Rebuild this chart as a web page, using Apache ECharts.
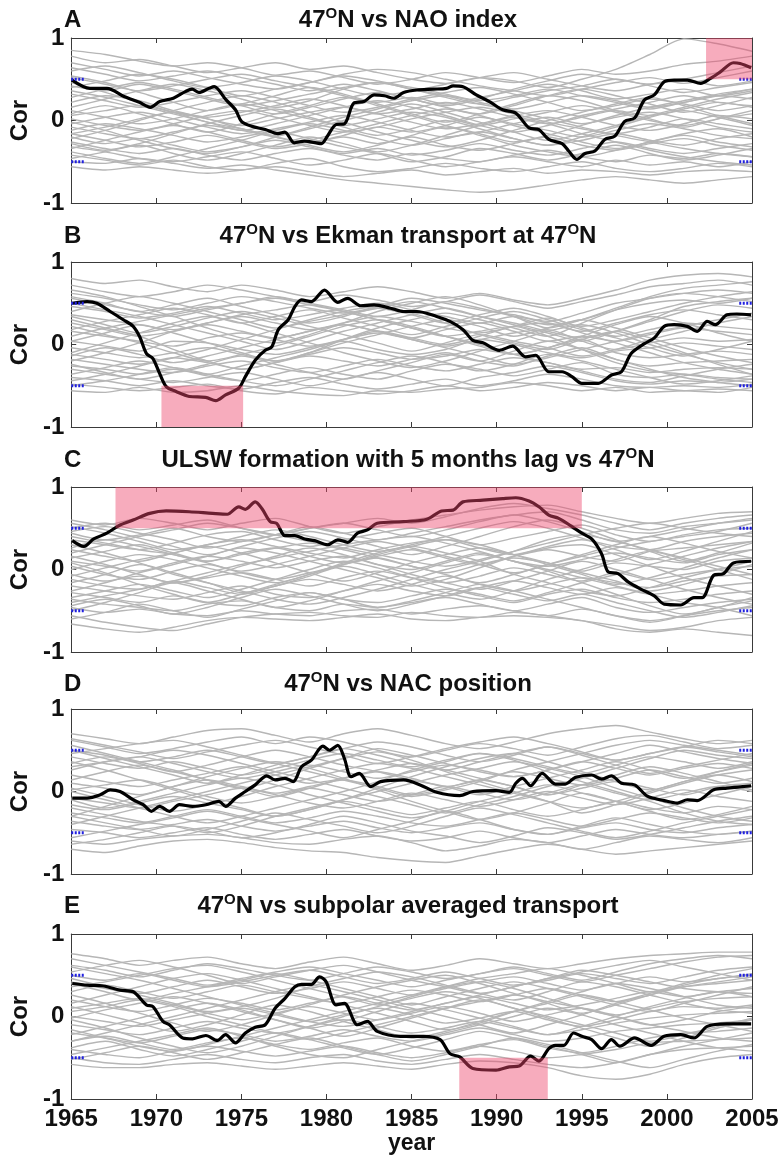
<!DOCTYPE html>
<html>
<head>
<meta charset="utf-8">
<script src="https://cdn.jsdelivr.net/npm/echarts@6/dist/echarts.min.js"></script>
<style>
  html, body { margin: 0; padding: 0; background: #fff; }
  #chart { width: 784px; height: 1166px; }
</style>
</head>
<body>
<div id="chart"></div>
<script>
// ---- Running correlations, 1965-2005 ----
const years = [1965, 1967, 1969, 1971, 1973, 1975, 1977, 1979, 1981, 1983, 1985,
               1987, 1989, 1991, 1993, 1995, 1997, 1999, 2001, 2003, 2005];
const yTicks = [-1, 0, 1];
const sigLevel = 0.5;

const panelLetters = ['A', 'B', 'C', 'D', 'E'];
const panelTitles = [
  '47{s|O}N vs NAO index',
  '47{s|O}N vs Ekman transport at 47{s|O}N',
  'ULSW formation with 5 months lag vs 47{s|O}N',
  '47{s|O}N vs NAC position',
  '47{s|O}N vs subpolar averaged transport'
];

// Highlighted (significant) windows: [yearFrom, corFrom, yearTo, corTo]
const shadeA = [[2002.3, 0.5, 2005, 1]];
const shadeB = [[1970.3, -1, 1975.1, -0.5]];
const shadeC = [[1967.6, 0.5, 1995.0, 1]];
const shadeD = [];
const shadeE = [[1987.8, -1, 1993.0, -0.5]];

// Observed running correlation (thick line)
const mainA = [[1965.05,.49],[1966.1,.39],[1967.1,.39],[1968.1,.29],[1969.0,.22],[1969.65,.16],[1970.2,.23],
  [1971.0,.27],[1971.7,.35],[1972.1,.38],[1972.5,.34],[1973.1,.39],[1973.4,.41],[1974.1,.25],[1974.65,.13],
  [1975.0,-.01],[1975.6,-.07],[1976.4,-.11],[1977.15,-.16],[1977.55,-.14],[1978.1,-.27],[1978.7,-.25],
  [1979.7,-.28],[1980.05,-.19],[1980.55,-.05],[1981.05,-.04],[1981.6,.21],[1982.2,.23],[1982.8,.31],
  [1983.4,.30],[1983.95,.27],[1984.53,.34],[1985.31,.37],[1986.28,.38],[1987.05,.39],[1987.44,.42],
  [1988.02,.41],[1988.8,.31],[1989.57,.23],[1990.35,.13],[1991.12,.09],[1991.9,-.09],[1992.48,-.11],
  [1993.06,-.23],[1993.84,-.28],[1994.23,-.37],[1994.71,-.47],[1995.19,-.40],[1995.77,-.37],[1996.35,-.23],
  [1996.94,-.19],[1997.52,-.01],[1998.1,.03],[1998.68,.25],[1999.26,.31],[1999.84,.47],[2000.42,.49],
  [2001.2,.49],[2001.98,.45],[2002.56,.51],[2003.14,.59],[2003.91,.70],[2004.3,.69],[2004.95,.64]];

const mainB = [[1965.06,.50],[1965.93,.52],[1966.5,.50],[1967.29,.40],[1968.06,.30],[1968.64,.22],[1969.03,.09],
  [1969.42,-.11],[1969.8,-.17],[1970.19,-.35],[1970.58,-.51],[1971.16,-.57],[1971.94,-.63],[1972.9,-.64],
  [1973.49,-.68],[1974.07,-.61],[1974.84,-.53],[1975.23,-.39],[1975.81,-.19],[1976.4,-.07],[1976.78,-.03],
  [1977.17,.18],[1977.75,.30],[1978.14,.46],[1978.53,.54],[1979.11,.52],[1979.88,.66],[1980.66,.51],
  [1981.24,.56],[1982.01,.47],[1982.79,.48],[1983.76,.44],[1984.53,.40],[1985.31,.40],[1986.47,.34],
  [1987.25,.28],[1988.02,.18],[1988.6,.05],[1989.19,.02],[1990.16,-.07],[1990.93,-.02],[1991.7,-.15],
  [1992.29,-.13],[1993.06,-.33],[1993.84,-.33],[1994.42,-.39],[1995.0,-.47],[1995.97,-.47],[1996.74,-.37],
  [1997.33,-.33],[1997.9,-.11],[1998.68,.01],[1999.26,.08],[1999.84,.22],[2000.42,.24],[2001.2,.22],
  [2001.78,.16],[2002.37,.28],[2002.85,.24],[2003.53,.36],[2004.11,.37],[2004.95,.36]];

const mainC = [[1965.06,.35],[1965.74,.28],[1966.32,.37],[1967.09,.44],[1967.87,.54],[1968.64,.60],[1969.61,.68],
  [1970.58,.71],[1971.94,.70],[1973.3,.68],[1974.17,.67],[1974.84,.76],[1975.23,.73],[1975.81,.82],
  [1976.2,.74],[1976.69,.58],[1977.07,.56],[1977.56,.41],[1978.14,.41],[1978.72,.37],[1979.3,.35],
  [1980.08,.30],[1980.66,.36],[1981.24,.33],[1981.82,.44],[1982.4,.48],[1982.98,.56],[1984.53,.58],
  [1985.9,.61],[1986.76,.71],[1987.44,.72],[1988.02,.82],[1989.19,.84],[1990.35,.86],[1991.12,.87],
  [1991.9,.83],[1992.48,.76],[1993.06,.66],[1993.64,.62],[1994.42,.52],[1995.0,.44],[1995.58,.37],
  [1996.16,.19],[1996.55,-.03],[1997.13,-.05],[1997.72,-.15],[1998.49,-.24],[1999.26,-.32],[1999.84,-.42],
  [2000.81,-.43],[2001.59,-.34],[2002.07,-.34],[2002.75,-.07],[2003.33,-.05],[2003.91,.08],[2004.95,.10]];

const mainD = [[1965.06,-.08],[1965.93,-.08],[1966.7,-.04],[1967.29,.02],[1967.87,.00],[1968.64,-.10],[1969.23,-.16],
  [1969.71,-.24],[1970.19,-.18],[1970.77,-.24],[1971.35,-.16],[1972.13,-.18],[1972.91,-.16],[1973.68,-.12],
  [1974.07,-.18],[1974.65,-.08],[1975.23,.00],[1975.81,.08],[1976.49,.19],[1976.98,.14],[1977.56,.16],
  [1978.04,.12],[1978.53,.30],[1979.11,.38],[1979.79,.55],[1980.17,.50],[1980.66,.56],[1981.05,.40],
  [1981.44,.18],[1981.92,.22],[1982.6,.06],[1983.18,.12],[1984.53,.14],[1985.5,.08],[1986.47,-.01],
  [1987.83,-.05],[1988.6,.00],[1989.96,.01],[1990.74,-.01],[1991.12,.10],[1991.51,.16],[1991.99,.07],
  [1992.67,.22],[1993.45,.09],[1994.03,.09],[1994.61,.17],[1995.58,.20],[1996.16,.15],[1996.74,.19],
  [1997.33,.10],[1998.1,.08],[1998.88,-.06],[1999.84,-.11],[2000.62,-.14],[2001.2,-.10],[2001.78,-.11],
  [2002.75,.02],[2003.53,.04],[2004.95,.07]];

const mainE = [[1965.06,.40],[1965.93,.38],[1966.9,.37],[1967.87,.32],[1968.64,.30],[1969.42,.14],[1969.8,.12],
  [1970.39,-.06],[1970.77,-.10],[1971.55,-.26],[1972.13,-.27],[1972.91,-.23],[1973.59,-.29],[1974.07,-.22],
  [1974.65,-.32],[1975.23,-.20],[1975.81,-.13],[1976.4,-.10],[1976.98,.10],[1977.56,.22],[1978.14,.36],
  [1978.53,.39],[1979.11,.39],[1979.59,.48],[1979.98,.42],[1980.56,.14],[1981.05,.16],[1981.82,-.10],
  [1982.4,-.06],[1982.98,-.18],[1984.34,-.24],[1985.7,-.24],[1986.67,-.28],[1987.25,-.45],[1987.83,-.49],
  [1988.6,-.63],[1989.96,-.65],[1990.74,-.61],[1991.32,-.60],[1991.99,-.48],[1992.48,-.54],[1993.06,-.39],
  [1993.45,-.35],[1993.94,-.35],[1994.52,-.20],[1995.0,-.24],[1995.58,-.28],[1996.16,-.39],[1996.74,-.28],
  [1997.23,-.36],[1998.1,-.26],[1999.07,-.35],[1999.84,-.24],[2000.81,-.22],[2001.59,-.26],[2002.37,-.12],
  [2003.53,-.09],[2004.95,-.09]];

// Ensemble members (thin gray lines), one row per member, values at `years`
const ensA = [
  [.85,.80,.72,.66,.70,.64,.55,.60,.52,.44,.50,.58,.52,.46,.54,.62,.56,.60,.68,.72,.78],
  [.78,.70,.74,.66,.58,.64,.70,.62,.66,.58,.50,.45,.52,.48,.40,.50,.62,.80,.99,.93,.84],
  [.70,.62,.54,.60,.52,.44,.38,.46,.56,.62,.58,.50,.42,.36,.30,.38,.46,.52,.45,.52,.60],
  [.60,.66,.58,.48,.40,.46,.54,.48,.38,.30,.36,.44,.52,.58,.50,.42,.36,.44,.50,.42,.48],
  [.52,.44,.36,.42,.50,.56,.48,.40,.30,.22,.28,.20,.28,.36,.44,.36,.26,.32,.38,.30,.36],
  [.42,.36,.44,.36,.26,.18,.24,.32,.40,.46,.38,.30,.20,.14,.22,.30,.24,.16,.22,.30,.26],
  [.32,.24,.16,.22,.30,.36,.28,.18,.10,.16,.26,.34,.40,.32,.22,.12,.18,.26,.20,.12,.18],
  [.22,.30,.24,.12,.04,.10,.18,.26,.18,.08,.14,.22,.14,.04,-.04,.04,.12,.06,.14,.22,.16],
  [.12,.04,-.04,.02,.12,.20,.12,.02,-.06,.02,.10,.04,-.06,.02,.10,.18,.10,0,-.06,.02,.08],
  [.06,.12,.18,.10,.02,-.06,.02,.10,.16,.08,-.02,-.10,-.04,.06,.12,.04,-.06,-.12,-.04,.06,.02],
  [.02,-.06,-.12,-.04,.06,.12,.04,-.06,-.14,-.08,.02,.10,.16,.08,-.02,-.10,-.16,-.08,.02,-.04,-.10],
  [-.04,.04,.10,.02,-.08,-.16,-.10,-.02,.06,-.02,-.12,-.20,-.14,-.04,.04,-.04,.04,.10,.02,-.08,-.14],
  [-.08,-.16,-.22,-.14,-.06,-.12,-.20,-.26,-.18,-.08,-.14,-.06,.04,-.04,-.12,-.20,-.12,-.04,-.10,-.18,-.22],
  [-.12,-.04,-.10,-.18,-.26,-.20,-.12,-.04,-.12,-.22,-.30,-.22,-.14,-.22,-.30,-.24,-.16,-.24,-.30,-.22,-.16],
  [-.16,-.24,-.32,-.26,-.18,-.26,-.34,-.28,-.20,-.28,-.20,-.30,-.36,-.28,-.20,-.30,-.36,-.28,-.22,-.30,-.36],
  [-.20,-.28,-.22,-.30,-.38,-.32,-.24,-.32,-.40,-.34,-.42,-.36,-.28,-.36,-.42,-.34,-.26,-.34,-.40,-.34,-.28],
  [-.26,-.34,-.40,-.34,-.42,-.48,-.40,-.34,-.42,-.48,-.40,-.46,-.50,-.42,-.36,-.44,-.50,-.42,-.46,-.40,-.44],
  [-.32,-.38,-.46,-.50,-.44,-.38,-.46,-.54,-.48,-.40,-.48,-.56,-.50,-.44,-.50,-.56,-.48,-.54,-.50,-.56,-.50],
  [-.42,-.48,-.54,-.48,-.56,-.60,-.52,-.46,-.56,-.62,-.58,-.52,-.58,-.62,-.56,-.50,-.58,-.62,-.58,-.52,-.56],
  [-.50,-.52,-.46,-.52,-.58,-.54,-.60,-.66,-.72,-.76,-.80,-.84,-.87,-.84,-.78,-.72,-.68,-.72,-.76,-.72,-.68],
  [-.56,-.60,-.56,-.60,-.64,-.60,-.56,-.62,-.68,-.64,-.60,-.66,-.62,-.58,-.64,-.60,-.62,-.66,-.62,-.60,-.62],
  [.64,.56,.48,.54,.60,.52,.44,.36,.44,.36,.26,.18,.26,.38,.48,.56,.50,.44,.50,.58,.66],
  [.16,.26,.36,.44,.36,.26,.16,.24,.38,.46,.38,.28,.20,.28,.36,.42,.50,.42,.34,.40,.46],
  [-.34,-.24,-.14,-.06,-.14,-.24,-.32,-.24,-.14,-.04,.06,.14,.06,-.06,-.16,-.26,-.34,-.26,-.18,-.26,-.32],
  [.36,.28,.18,.08,-.02,-.12,-.04,.06,.16,.24,.16,.06,-.06,-.14,-.06,.06,.14,.22,.30,.22,.18],
  [-.22,-.12,0,.12,.22,.30,.22,.10,-.02,-.14,-.24,-.32,-.24,-.12,0,.10,.20,.28,.18,.06,-.04],
  [.46,.34,.22,.10,-.02,-.10,-.18,-.10,0,.10,.20,.10,-.02,-.14,-.24,-.16,-.06,.06,.16,.26,.34],
  [-.02,-.12,-.24,-.34,-.40,-.32,-.20,-.08,.04,.14,.24,.30,.22,.12,.02,-.08,-.18,-.26,-.34,-.40,-.44],
  [.28,.38,.46,.38,.28,.18,.08,.16,.26,.34,.26,.16,.08,.18,.30,.38,.30,.20,.10,.18,.28],
  [-.28,-.36,-.28,-.16,-.04,.06,.14,.04,-.08,-.18,-.10,0,-.10,-.22,-.30,-.20,-.08,.04,.12,.04,-.06],
  [.54,.46,.34,.22,.12,.20,.30,.40,.32,.20,.08,-.02,.08,.20,.30,.24,.12,.02,-.08,.02,.12],
  [-.46,-.38,-.30,-.40,-.48,-.40,-.30,-.20,-.28,-.38,-.30,-.18,-.06,.04,-.04,-.16,-.26,-.36,-.44,-.50,-.54],
  [.08,.18,.08,-.04,-.14,-.04,.08,.18,.28,.18,.06,-.06,-.16,-.26,-.18,-.06,.06,.16,.24,.32,.38],
  [-.16,-.08,.02,.10,.02,-.10,-.20,-.30,-.38,-.30,-.18,-.08,-.18,-.30,-.38,-.44,-.36,-.26,-.16,-.10,-.20],
  [.40,.48,.56,.50,.40,.30,.38,.46,.54,.48,.40,.32,.24,.30,.38,.30,.22,.14,.22,.30,.38],
  [-.38,-.46,-.52,-.44,-.34,-.24,-.14,-.22,-.32,-.40,-.50,-.44,-.34,-.40,-.48,-.40,-.30,-.40,-.48,-.42,-.34]
];

const ensB = [
  [.80,.74,.78,.70,.64,.72,.66,.58,.64,.70,.64,.56,.62,.54,.48,.56,.66,.78,.84,.86,.82],
  [.72,.64,.58,.64,.72,.66,.58,.52,.60,.54,.46,.52,.60,.52,.44,.52,.60,.70,.74,.78,.72],
  [.62,.56,.48,.42,.50,.58,.52,.44,.38,.46,.56,.50,.42,.36,.28,.38,.50,.56,.62,.66,.62],
  [.56,.48,.40,.34,.42,.50,.58,.50,.42,.34,.42,.52,.44,.34,.24,.30,.42,.50,.54,.50,.56],
  [.46,.40,.32,.38,.46,.38,.30,.36,.44,.50,.42,.34,.26,.34,.26,.16,.26,.36,.42,.36,.30],
  [.36,.30,.24,.18,.26,.34,.26,.18,.26,.34,.28,.20,.14,.22,.32,.20,.10,.18,.26,.22,.18],
  [.26,.18,.10,.16,.24,.16,.08,.16,.24,.16,.08,.18,.26,.16,.04,.10,.04,.12,.20,.16,.12],
  [.16,.10,.04,-.02,.08,.14,.06,-.02,.06,.14,.06,-.02,.06,.14,.18,.04,-.06,.02,.08,.04,.06],
  [.04,-.02,-.08,.04,.02,-.06,-.12,-.04,.04,-.06,-.12,-.06,.06,0,-.10,-.16,-.08,-.04,.02,-.02,-.06],
  [-.04,-.10,-.16,-.10,-.04,-.12,-.20,-.12,-.04,-.10,-.18,-.14,-.06,-.12,-.04,.06,-.10,-.16,-.12,-.08,-.12],
  [-.12,-.18,-.24,-.16,-.22,-.30,-.22,-.14,-.20,-.26,-.18,-.10,-.20,-.26,-.14,-.04,-.18,-.26,-.22,-.20,-.18],
  [-.18,-.24,-.30,-.34,-.26,-.20,-.28,-.34,-.26,-.18,-.26,-.32,-.24,-.16,-.22,-.30,-.28,-.34,-.30,-.28,-.30],
  [-.26,-.30,-.36,-.30,-.38,-.44,-.36,-.28,-.36,-.42,-.32,-.24,-.30,-.38,-.30,-.22,-.36,-.40,-.36,-.40,-.42],
  [-.30,-.36,-.42,-.46,-.40,-.34,-.42,-.50,-.42,-.34,-.42,-.50,-.40,-.34,-.26,-.34,-.44,-.48,-.44,-.46,-.42],
  [-.40,-.44,-.50,-.44,-.50,-.54,-.46,-.40,-.48,-.54,-.48,-.42,-.50,-.44,-.36,-.42,-.50,-.52,-.50,-.52,-.48],
  [-.48,-.52,-.56,-.52,-.48,-.56,-.60,-.52,-.56,-.60,-.56,-.50,-.56,-.52,-.46,-.50,-.56,-.52,-.56,-.54,-.56],
  [-.56,-.58,-.52,-.58,-.56,-.50,-.56,-.60,-.62,-.56,-.58,-.54,-.52,-.46,-.50,-.56,-.52,-.58,-.56,-.58,-.52],
  [.50,.42,.34,.24,.14,.04,-.06,.04,.16,.26,.36,.44,.34,.24,.14,.04,.16,.30,.46,.52,.56],
  [-.20,-.10,.02,.16,.26,.36,.42,.48,.40,.30,.20,.10,0,-.12,-.22,-.32,-.42,-.46,-.38,-.30,-.24],
  [.30,.20,.10,-.06,-.20,-.30,-.22,-.10,.06,.20,.30,.38,.30,.20,.10,.26,.42,.56,.62,.58,.52],
  [.10,.20,.28,.36,.44,.50,.56,.48,.40,.30,.20,.10,.16,.22,.10,-.06,-.22,-.32,-.36,-.42,-.46],
  [-.36,-.28,-.20,-.28,-.36,-.26,-.16,-.06,.06,.16,.08,0,.10,.22,.26,.14,.02,-.10,-.22,-.30,-.36],
  [.66,.58,.46,.34,.20,.08,.02,.12,.26,.40,.50,.58,.48,.34,.20,.30,.44,.58,.68,.72,.76],
  [-.44,-.36,-.26,-.16,-.06,.06,.18,.30,.40,.46,.38,.26,.12,.02,-.06,.06,.16,.04,-.10,-.24,-.36],
  [.22,.12,.02,-.10,-.20,-.12,-.02,.10,.22,.30,.22,.10,-.02,-.12,-.04,.10,.24,.34,.26,.14,.04],
  [-.10,.02,.14,.26,.34,.26,.14,.02,-.10,-.20,-.28,-.20,-.08,.04,.16,.24,.14,0,-.12,-.22,-.30],
  [.40,.50,.58,.50,.40,.30,.20,.28,.36,.44,.52,.44,.34,.26,.16,.08,.16,.28,.40,.48,.44],
  [-.24,-.34,-.42,-.34,-.24,-.14,-.24,-.34,-.42,-.32,-.22,-.12,-.20,-.08,.04,-.06,-.18,-.30,-.40,-.46,-.50],
  [.58,.50,.40,.48,.56,.46,.36,.26,.34,.44,.36,.26,.36,.44,.34,.22,.30,.40,.50,.58,.64],
  [.04,.14,.24,.14,.02,-.10,-.20,-.10,.02,.12,.22,.30,.22,.10,.20,.30,.20,.08,-.04,-.14,-.22],
  [-.50,-.44,-.36,-.28,-.36,-.44,-.50,-.42,-.32,-.22,-.14,-.22,-.32,-.24,-.12,-.20,-.30,-.40,-.48,-.44,-.38],
  [.34,.24,.14,.22,.32,.40,.32,.22,.12,.02,-.08,.02,.12,.04,-.04,-.14,-.06,.06,.16,.26,.34],
  [-.14,-.04,-.12,-.22,-.14,-.04,.06,.16,.24,.16,.06,-.04,-.14,-.24,-.16,-.06,.04,.14,.22,.30,.38],
  [.18,.28,.36,.44,.36,.26,.34,.42,.32,.22,.12,.22,.32,.40,.30,.18,.08,-.04,-.14,-.06,.04]
];

const ensC = [
  [.60,.54,.62,.56,.48,.56,.62,.52,.44,.52,.60,.66,.72,.76,.78,.70,.62,.56,.62,.68,.70],
  [.50,.56,.48,.54,.60,.50,.42,.50,.56,.62,.56,.64,.74,.80,.74,.66,.56,.48,.56,.62,.66],
  [.44,.36,.42,.50,.40,.34,.42,.52,.44,.36,.44,.52,.60,.66,.70,.60,.48,.44,.52,.56,.60],
  [.36,.30,.24,.32,.42,.46,.36,.28,.36,.44,.50,.40,.30,.38,.46,.54,.42,.34,.42,.48,.50],
  [.24,.16,.10,.20,.30,.36,.28,.20,.14,.24,.32,.36,.26,.18,.28,.36,.28,.24,.34,.40,.44],
  [.14,.22,.30,.20,.10,.20,.26,.16,.08,.16,.24,.14,.06,.16,.24,.16,.10,.22,.26,.30,.34],
  [.10,.04,-.02,.08,.16,.10,.02,.10,.16,.06,0,.10,.20,.10,.04,.12,.20,.14,.08,.18,.24],
  [.04,-.06,-.12,-.02,.06,-.04,-.12,-.04,.06,.14,.04,-.04,.06,.14,.08,-.02,.08,.04,0,.10,.14],
  [-.06,-.14,-.08,-.16,-.10,-.04,-.12,-.20,-.10,-.02,-.10,-.16,-.08,.02,-.06,-.14,-.04,-.12,-.06,0,.04],
  [-.12,-.20,-.24,-.14,-.22,-.30,-.20,-.12,-.18,-.26,-.18,-.08,-.18,-.26,-.18,-.10,-.16,-.22,-.14,-.08,-.06],
  [-.20,-.26,-.32,-.36,-.28,-.20,-.30,-.34,-.26,-.18,-.26,-.32,-.22,-.14,-.22,-.30,-.22,-.30,-.26,-.20,-.16],
  [-.28,-.34,-.40,-.32,-.40,-.44,-.34,-.28,-.36,-.40,-.32,-.24,-.32,-.40,-.30,-.24,-.34,-.40,-.36,-.30,-.26],
  [-.36,-.42,-.46,-.50,-.42,-.38,-.46,-.50,-.42,-.46,-.40,-.34,-.42,-.50,-.42,-.34,-.46,-.52,-.46,-.40,-.36],
  [-.46,-.52,-.48,-.54,-.56,-.50,-.54,-.56,-.50,-.48,-.54,-.48,-.44,-.50,-.56,-.48,-.56,-.62,-.56,-.50,-.46],
  [-.56,-.64,-.70,-.74,-.66,-.58,-.54,-.52,-.56,-.58,-.52,-.56,-.58,-.52,-.56,-.62,-.68,-.74,-.70,-.62,-.58],
  [-.66,-.72,-.76,-.70,-.62,-.58,-.60,-.62,-.58,-.54,-.60,-.62,-.58,-.56,-.58,-.62,-.72,-.76,-.72,-.76,-.80],
  [.20,.30,.40,.48,.56,.50,.42,.34,.26,.18,.10,.04,.12,.22,.32,.42,.50,.56,.50,.44,.40],
  [-.26,-.16,-.04,.06,.16,.26,.20,.10,0,-.10,-.20,-.12,.02,.16,.26,.30,.18,.04,-.10,-.20,-.30],
  [.30,.20,.08,-.06,-.16,-.26,-.36,-.42,-.34,-.24,-.12,0,.10,.22,.36,.42,.34,.24,.14,.04,-.06],
  [-.40,-.32,-.24,-.14,-.04,.06,.14,.22,.30,.36,.40,.32,.22,.10,0,-.10,-.20,-.30,-.40,-.46,-.56],
  [0,.10,.18,.12,.02,-.08,-.16,-.06,.08,.20,.28,.20,.10,-.06,-.16,-.26,-.32,-.22,-.10,0,.10],
  [.40,.32,.24,.18,.10,.18,.26,.32,.24,.14,.04,-.06,-.16,-.06,.06,.16,.26,.34,.40,.46,.56],
  [-.50,-.40,-.28,-.16,-.26,-.36,-.46,-.38,-.26,-.14,-.04,.08,.18,.10,-.02,-.16,-.30,-.44,-.54,-.46,-.34],
  [.52,.44,.34,.24,.30,.40,.48,.40,.30,.22,.30,.40,.50,.58,.50,.38,.24,.12,.22,.34,.46],
  [-.16,-.06,.06,-.04,-.16,-.28,-.20,-.08,.04,-.06,-.18,-.28,-.36,-.26,-.12,0,.12,.22,.12,0,-.12],
  [.08,-.04,-.18,-.30,-.40,-.30,-.18,-.06,.06,.18,.28,.36,.30,.18,.06,-.06,-.18,-.10,.02,.14,.24],
  [.56,.48,.38,.28,.18,.28,.38,.46,.38,.28,.18,.28,.40,.52,.60,.50,.36,.22,.10,.20,.32],
  [-.60,-.52,-.42,-.50,-.58,-.48,-.38,-.28,-.36,-.46,-.38,-.28,-.18,-.26,-.36,-.46,-.56,-.64,-.56,-.46,-.38],
  [.26,.36,.28,.18,.08,-.02,.06,.16,.26,.34,.26,.16,.06,-.04,.06,.18,.30,.40,.32,.22,.14],
  [-.34,-.26,-.18,-.26,-.34,-.24,-.12,0,.10,.02,-.10,-.22,-.30,-.38,-.28,-.16,-.06,.06,.16,.26,.34],
  [.16,.06,-.06,-.16,-.08,.04,.16,.26,.18,.06,-.06,-.16,-.24,-.14,-.02,.10,0,-.12,-.24,-.34,-.42],
  [-.44,-.36,-.44,-.54,-.46,-.34,-.24,-.32,-.42,-.50,-.42,-.32,-.22,-.30,-.38,-.30,-.40,-.50,-.58,-.52,-.44],
  [.46,.52,.44,.36,.26,.34,.42,.50,.56,.48,.40,.48,.58,.66,.58,.46,.34,.40,.48,.56,.62],
  [-.08,.02,.12,.20,.28,.20,.08,-.04,-.14,-.04,.08,.18,.26,.18,.08,-.04,-.14,-.26,-.18,-.06,.06]
];

const ensD = [
  [.70,.64,.58,.66,.74,.76,.68,.60,.70,.76,.68,.58,.52,.60,.70,.76,.80,.72,.64,.58,.62],
  [.62,.54,.46,.52,.60,.66,.58,.66,.60,.50,.42,.50,.58,.52,.44,.54,.64,.68,.60,.52,.56],
  [.50,.44,.36,.42,.50,.42,.34,.42,.52,.60,.54,.44,.36,.44,.54,.46,.38,.46,.54,.48,.42],
  [.42,.34,.28,.36,.28,.20,.28,.38,.46,.38,.30,.38,.46,.40,.30,.22,.32,.42,.36,.28,.36],
  [.30,.36,.42,.34,.24,.16,.24,.32,.24,.16,.24,.32,.26,.18,.26,.36,.28,.20,.28,.34,.28],
  [.20,.12,.06,.14,.22,.30,.20,.10,.16,.24,.16,.06,.14,.24,.16,.08,.16,.26,.18,.10,.16],
  [.10,.04,-.04,.06,.14,.06,-.02,.06,.14,.06,-.04,.04,.14,.06,-.04,.04,.12,.04,-.04,.06,.10],
  [.02,.08,.14,.04,-.06,-.14,-.06,.04,-.04,-.12,-.04,.06,-.02,-.10,-.02,.08,-.02,-.10,-.02,.06,0],
  [-.08,-.14,-.20,-.12,-.04,.04,-.04,-.14,-.20,-.12,-.02,-.10,-.18,-.10,0,-.08,-.16,-.08,.02,-.06,-.12],
  [-.16,-.22,-.14,-.06,-.14,-.22,-.30,-.22,-.12,-.20,-.28,-.20,-.12,-.22,-.30,-.22,-.12,-.20,-.26,-.18,-.22],
  [-.26,-.32,-.38,-.30,-.22,-.30,-.38,-.32,-.24,-.30,-.38,-.42,-.34,-.26,-.34,-.42,-.34,-.26,-.32,-.38,-.32],
  [-.36,-.42,-.46,-.40,-.34,-.42,-.48,-.42,-.36,-.44,-.50,-.44,-.38,-.46,-.52,-.44,-.38,-.46,-.50,-.44,-.40],
  [-.46,-.50,-.56,-.50,-.44,-.52,-.58,-.52,-.46,-.54,-.60,-.56,-.48,-.56,-.62,-.54,-.46,-.52,-.56,-.52,-.48],
  [-.60,-.64,-.58,-.54,-.52,-.56,-.62,-.64,-.58,-.54,-.62,-.72,-.66,-.58,-.62,-.70,-.62,-.54,-.58,-.62,-.56],
  [-.70,-.74,-.66,-.60,-.58,-.62,-.68,-.72,-.74,-.80,-.84,-.86,-.78,-.70,-.64,-.70,-.76,-.72,-.68,-.64,-.60],
  [.56,.46,.36,.26,.14,.04,.14,.28,.40,.52,.44,.34,.24,.18,.26,.36,.46,.56,.48,.40,.34],
  [-.40,-.30,-.20,-.10,0,.10,.20,.30,.40,.48,.38,.24,.12,0,-.12,-.26,-.16,-.02,.10,.20,.26],
  [.26,.36,.42,.50,.44,.34,.24,.14,.04,-.06,-.16,-.26,-.16,-.06,.06,.16,.28,.40,.50,.44,.40],
  [-.20,-.28,-.36,-.42,-.50,-.42,-.30,-.20,-.10,0,.10,.20,.28,.36,.28,.18,.04,-.08,-.20,-.30,-.36],
  [.46,.52,.58,.62,.54,.44,.34,.24,.14,.04,-.06,.02,.12,.26,.36,.46,.56,.62,.56,.50,.44],
  [0,-.10,-.20,-.30,-.38,-.30,-.20,-.10,0,.12,.26,.36,.46,.38,.24,.12,0,-.12,-.26,-.36,-.40],
  [-.56,-.48,-.40,-.32,-.24,-.32,-.40,-.48,-.56,-.46,-.36,-.24,-.34,-.46,-.52,-.42,-.32,-.40,-.48,-.52,-.48],
  [.36,.26,.14,.02,-.10,-.20,-.30,-.22,-.10,.04,.18,.30,.40,.46,.36,.24,.12,.02,.12,.24,.34],
  [-.30,-.18,-.06,.06,.18,.28,.36,.28,.16,.02,-.12,-.24,-.34,-.26,-.14,-.02,-.12,-.24,-.34,-.28,-.18],
  [.64,.56,.48,.40,.48,.56,.62,.54,.44,.34,.42,.52,.60,.66,.58,.48,.38,.46,.54,.62,.58],
  [-.64,-.58,-.50,-.42,-.48,-.56,-.50,-.40,-.30,-.38,-.48,-.54,-.62,-.54,-.44,-.50,-.58,-.52,-.44,-.36,-.30],
  [.14,.24,.32,.24,.14,.04,-.06,.04,.16,.26,.34,.26,.16,.06,-.04,.08,.20,.30,.22,.12,.02],
  [-.10,-.20,-.12,-.02,.08,.16,.08,-.04,-.14,-.24,-.32,-.24,-.12,-.02,.08,-.02,-.12,-.22,-.14,-.04,.06],
  [.34,.42,.34,.24,.32,.42,.50,.42,.32,.24,.14,.06,-.04,.06,.16,.26,.36,.26,.16,.24,.32],
  [-.30,-.38,-.46,-.54,-.46,-.36,-.26,-.34,-.42,-.50,-.42,-.30,-.20,-.28,-.38,-.48,-.56,-.48,-.38,-.30,-.22],
  [.04,-.06,-.16,-.24,-.16,-.06,.06,.16,.26,.34,.28,.18,.08,-.02,-.12,-.20,-.12,0,.12,.20,.12],
  [.50,.40,.30,.20,.10,.20,.32,.42,.52,.44,.34,.26,.36,.46,.54,.44,.32,.22,.30,.38,.46]
];

const ensE = [
  [.76,.70,.62,.68,.72,.64,.58,.66,.72,.64,.56,.62,.70,.64,.58,.64,.70,.74,.76,.78,.78],
  [.62,.56,.48,.56,.64,.58,.50,.44,.52,.60,.54,.46,.52,.60,.52,.44,.54,.64,.70,.74,.70],
  [.50,.44,.52,.44,.36,.42,.50,.56,.48,.40,.46,.54,.46,.38,.44,.52,.46,.40,.48,.56,.60],
  [.42,.34,.28,.36,.44,.36,.28,.34,.42,.34,.26,.34,.42,.48,.40,.32,.40,.48,.42,.46,.52],
  [.30,.38,.30,.22,.30,.38,.30,.22,.16,.24,.32,.26,.18,.26,.34,.26,.18,.28,.36,.40,.44],
  [.20,.12,.06,.14,.22,.16,.08,.16,.24,.16,.08,.16,.24,.16,.08,.14,.22,.30,.24,.30,.34],
  [.10,.16,.22,.14,.04,-.04,.04,.12,.04,-.04,.04,.12,.04,-.06,.02,.10,.02,.10,.18,.22,.24],
  [0,-.06,-.12,-.04,.04,.10,.02,-.06,.02,.10,.02,-.08,-.02,.06,-.04,-.12,-.04,.06,.12,.10,.14],
  [-.10,-.16,-.22,-.14,-.06,-.14,-.20,-.12,-.04,-.12,-.20,-.14,-.06,-.14,-.22,-.16,-.08,-.02,.02,.04,.06],
  [-.20,-.26,-.32,-.24,-.16,-.22,-.30,-.24,-.16,-.24,-.30,-.22,-.14,-.22,-.30,-.26,-.18,-.14,-.10,-.08,-.04],
  [-.30,-.24,-.32,-.40,-.32,-.26,-.34,-.40,-.32,-.26,-.36,-.42,-.34,-.28,-.38,-.44,-.36,-.26,-.20,-.18,-.14],
  [-.40,-.46,-.50,-.42,-.36,-.42,-.48,-.42,-.36,-.44,-.50,-.44,-.36,-.42,-.50,-.46,-.40,-.32,-.30,-.28,-.26],
  [-.50,-.56,-.58,-.52,-.46,-.52,-.56,-.50,-.46,-.54,-.58,-.52,-.46,-.52,-.58,-.62,-.56,-.46,-.40,-.38,-.36],
  [-.58,-.62,-.62,-.58,-.56,-.60,-.64,-.60,-.56,-.60,-.64,-.58,-.54,-.56,-.62,-.72,-.76,-.70,-.58,-.50,-.46],
  [.46,.36,.26,.16,.06,.12,.22,.36,.46,.54,.48,.38,.28,.20,.30,.42,.36,.26,.16,.08,.04],
  [-.30,-.20,-.10,0,.10,.20,.30,.38,.30,.20,.10,0,-.10,-.20,-.10,.02,.16,.26,.36,.42,.48],
  [.16,.26,.36,.46,.52,.44,.34,.24,.14,.04,-.06,-.16,-.08,.06,.18,.30,.40,.34,.24,.14,.10],
  [-.16,-.26,-.36,-.42,-.34,-.24,-.14,-.04,.06,.16,.26,.36,.42,.34,.22,.10,0,-.10,-.18,-.26,-.30],
  [.60,.52,.44,.34,.24,.14,.04,-.06,-.12,-.04,.06,.16,.26,.36,.46,.56,.50,.42,.34,.30,.28],
  [-.46,-.38,-.30,-.22,-.14,-.24,-.36,-.46,-.50,-.40,-.30,-.20,-.10,0,.10,.02,-.10,-.20,-.30,-.38,-.42],
  [.06,.12,.20,.12,0,-.10,-.20,-.28,-.20,-.10,0,.10,.18,.26,.18,.10,0,-.10,-.04,.06,.12],
  [.36,.42,.50,.58,.62,.54,.44,.34,.24,.14,.24,.36,.46,.52,.58,.50,.40,.30,.40,.50,.58],
  [-.04,-.14,-.26,-.36,-.44,-.36,-.24,-.12,0,.12,.22,.30,.22,.10,-.02,-.14,-.26,-.36,-.26,-.14,-.04],
  [.26,.16,.04,-.08,-.18,-.10,.02,.14,.26,.36,.44,.50,.40,.28,.16,.04,.14,.26,.38,.46,.50],
  [.54,.62,.68,.60,.50,.40,.48,.56,.62,.54,.44,.36,.28,.36,.46,.54,.62,.68,.60,.52,.44],
  [-.52,-.44,-.36,-.44,-.52,-.44,-.34,-.26,-.36,-.46,-.54,-.46,-.36,-.26,-.34,-.44,-.54,-.62,-.52,-.42,-.34],
  [.12,.02,-.08,-.18,-.10,.02,.14,.06,-.06,-.16,-.26,-.18,-.06,.06,.16,.26,.18,.08,-.02,-.10,-.18],
  [-.22,-.12,-.02,.08,.16,.08,-.04,-.14,-.24,-.14,-.02,.10,.20,.10,0,-.10,-.20,-.30,-.22,-.12,-.02],
  [.40,.30,.20,.28,.36,.44,.52,.44,.34,.24,.14,.24,.34,.42,.34,.24,.14,.06,.16,.26,.36],
  [-.38,-.30,-.40,-.48,-.40,-.30,-.20,-.28,-.38,-.46,-.38,-.28,-.18,-.26,-.36,-.46,-.56,-.46,-.36,-.28,-.20],
  [.70,.62,.54,.46,.38,.46,.54,.60,.52,.44,.36,.44,.52,.58,.50,.42,.50,.58,.66,.72,.74],
  [-.02,.08,.16,.24,.16,.06,-.04,-.14,-.06,.06,.16,.08,-.02,-.12,-.22,-.12,0,.12,.22,.30,.24]
];

// ---- Layout & styling ----
const FONT = '"Liberation Sans", Arial, Helvetica, sans-serif';
const panelTop = [38, 262, 487, 709, 934];
const panelH = 165;
const titleY = [20, 236, 460, 684, 906];
const plotLeft = 64, plotRight = 752;
const xMin = 1965, xMax = 2005;
const sigMarkLen = 0.75; // years

const ensembles = [ensA, ensB, ensC, ensD, ensE];
const mains = [mainA, mainB, mainC, mainD, mainE];
const shades = [shadeA, shadeB, shadeC, shadeD, shadeE];

const grids = [], xAxes = [], yAxes = [], series = [], graphics = [];
const axisColor = '#3a3a3a';

for (let p = 0; p < 5; p++) {
  const last = p === 4;
  grids.push({ left: plotLeft, right: 784 - plotRight, top: panelTop[p], height: panelH });

  const xBase = {
    gridIndex: p, type: 'value', min: xMin, max: xMax, interval: 5,
    axisLine: { show: true, onZero: false, lineStyle: { color: axisColor, width: 1 } },
    axisTick: { show: true, inside: true, length: 5, lineStyle: { color: axisColor } },
    splitLine: { show: false }
  };
  xAxes.push(Object.assign({}, xBase, {
    position: 'bottom',
    axisLabel: {
      show: last, color: '#111', fontFamily: FONT, fontWeight: 'bold', fontSize: 24, margin: 8,
      formatter: v => String(v)
    },
    name: last ? 'year' : '', nameLocation: 'middle', nameGap: 31,
    nameTextStyle: { color: '#111', fontFamily: FONT, fontWeight: 'bold', fontSize: 23 }
  }));
  xAxes.push(Object.assign({}, xBase, { position: 'top', axisLabel: { show: false } }));

  const yBase = {
    gridIndex: p, type: 'value', min: -1, max: 1, interval: 1,
    axisLine: { show: true, onZero: false, lineStyle: { color: axisColor, width: 1 } },
    axisTick: { show: true, inside: true, length: 5, lineStyle: { color: axisColor } },
    splitLine: { show: false }
  };
  yAxes.push(Object.assign({}, yBase, {
    position: 'left',
    axisLabel: {
      color: '#111', fontFamily: FONT, fontWeight: 'bold', fontSize: 24, margin: 7,
      formatter: v => yTicks.indexOf(v) >= 0 ? String(v) : ''
    },
    name: 'Cor', nameLocation: 'middle', nameGap: 26, nameRotate: 90,
    nameTextStyle: { color: '#111', fontFamily: FONT, fontWeight: 'bold', fontSize: 24 }
  }));
  yAxes.push(Object.assign({}, yBase, { position: 'right', axisLabel: { show: false } }));

  const xi = p * 2, yi = p * 2;

  ensembles[p].forEach(row => {
    series.push({
      type: 'line', xAxisIndex: xi, yAxisIndex: yi, z: 2,
      data: years.map((yr, i) => [yr, row[i]]),
      showSymbol: false, smooth: 0.25, silent: true,
      lineStyle: { color: '#b6b6b6', width: 1.4 }
    });
  });

  series.push({
    type: 'line', xAxisIndex: xi, yAxisIndex: yi, z: 3,
    data: mains[p], showSymbol: false, smooth: 0.3, silent: true,
    lineStyle: { color: '#000', width: 3.2 }
  });

  // significance level marks at both edges
  [[xMin, xMin + sigMarkLen], [xMax - sigMarkLen, xMax]].forEach(([a, b]) => {
    [sigLevel, -sigLevel].forEach(lv => {
      series.push({
        type: 'line', xAxisIndex: xi, yAxisIndex: yi, z: 5,
        data: [[a, lv], [b, lv]], showSymbol: false, silent: true,
        lineStyle: { color: '#2020e0', width: 3, type: [2, 1.5] }
      });
    });
  });

  if (shades[p].length) {
    series.push({
      type: 'custom', xAxisIndex: xi, yAxisIndex: yi, z: 6, silent: true,
      data: shades[p],
      renderItem: (params, api) => {
        const a = api.coord([api.value(0), api.value(3)]);
        const b = api.coord([api.value(2), api.value(1)]);
        return {
          type: 'rect',
          shape: { x: a[0], y: a[1], width: b[0] - a[0], height: b[1] - a[1] },
          style: { fill: 'rgba(238, 70, 108, 0.45)' }
        };
      }
    });
  }

  graphics.push({
    type: 'text', x: plotLeft, y: titleY[p],
    style: {
      text: panelLetters[p], fill: '#111', fontFamily: FONT, fontWeight: 'bold',
      fontSize: 24, align: 'left', verticalAlign: 'middle'
    }
  });
  graphics.push({
    type: 'text', x: (plotLeft + plotRight) / 2, y: titleY[p],
    style: {
      text: panelTitles[p], fill: '#111', fontFamily: FONT, fontWeight: 'bold',
      fontSize: 24, align: 'center', verticalAlign: 'middle',
      rich: {
        s: { fontFamily: FONT, fontWeight: 'bold', fontSize: 15, fill: '#111', padding: [0, 0, 13, 0] }
      }
    }
  });
}

const chart = echarts.init(document.getElementById('chart'), null, { renderer: 'canvas' });
chart.setOption({
  animation: false,
  backgroundColor: '#fff',
  grid: grids,
  xAxis: xAxes,
  yAxis: yAxes,
  series: series,
  graphic: graphics
});
</script>
</body>
</html>
